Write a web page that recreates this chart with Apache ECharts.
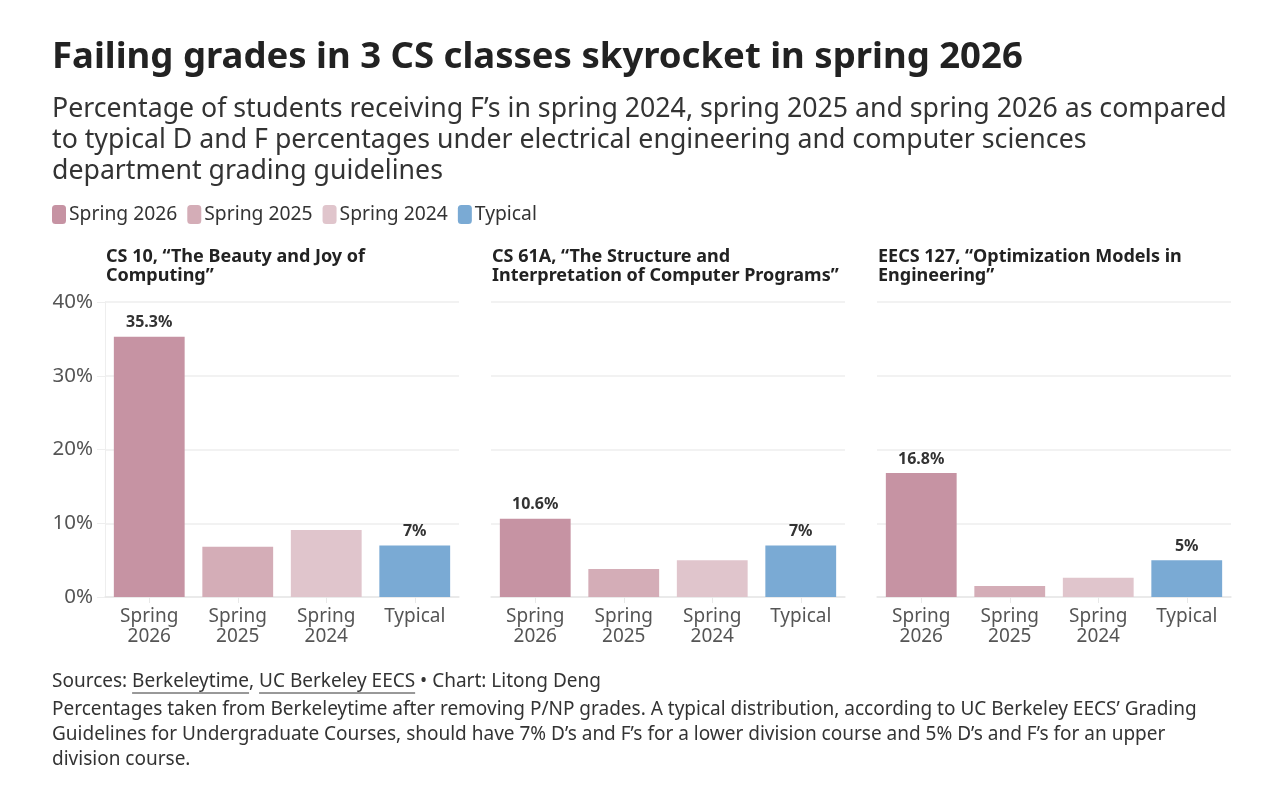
<!DOCTYPE html>
<html>
<head>
<meta charset="utf-8">
<script src="https://cdn.jsdelivr.net/npm/echarts@6/dist/echarts.min.js"></script>
<style>
  html, body { margin: 0; padding: 0; background: #fff; }
  #chart { width: 1280px; height: 802px; }
</style>
</head>
<body>
<div id="chart"></div>
<script>
// chart data
var categories = ['Spring\n2026', 'Spring\n2025', 'Spring\n2024', 'Typical'];
var seriesNames = ['Spring 2026', 'Spring 2025', 'Spring 2024', 'Typical'];
var panelTitles = [
  'CS 10, \u201cThe Beauty and Joy of\nComputing\u201d',
  'CS 61A, \u201cThe Structure and\nInterpretation of Computer Programs\u201d',
  'EECS 127, \u201cOptimization Models in\nEngineering\u201d'
];
var spring2026 = [35.3, 10.6, 16.8];
var spring2025 = [6.8, 3.8, 1.5];
var spring2024 = [9.1, 5.0, 2.6];
var typical = [7, 7, 5];
var yTicks = [0, 10, 20, 30, 40];

var FONT = '"Noto Sans", sans-serif';
var colors = ['#c693a3', '#d4adb7', '#e0c5cc', '#7aaad4'];
var panelLeft = [105, 491, 877];
var panelWidth = 354;

var chart = echarts.init(document.getElementById('chart'));

var values = [spring2026, spring2025, spring2024, typical];
var showLabel = [true, false, false, true];

var grids = [], xAxes = [], yAxes = [], series = [], graphics = [];
panelTitles.forEach(function (t, p) {
  grids.push({ left: panelLeft[p], top: 302, width: panelWidth, height: 295 });
  xAxes.push({
    type: 'category', gridIndex: p, data: categories,
    axisLine: { lineStyle: { color: '#e8e8e8', width: 1.5 } },
    axisTick: { show: true, alignWithLabel: true, length: 6, lineStyle: { color: '#e8e8e8' } },
    axisLabel: { color: '#555', fontFamily: FONT, fontSize: 19, lineHeight: 20, margin: 10 }
  });
  yAxes.push({
    type: 'value', gridIndex: p, min: yTicks[0], max: yTicks[yTicks.length - 1], interval: 10,
    axisLine: { show: p === 0, lineStyle: { color: '#eeeeee' } },
    axisTick: { show: p === 0, length: 8, lineStyle: { color: '#eeeeee' } },
    splitLine: { lineStyle: { color: '#eeeeee', width: 1.5 } },
    axisLabel: { show: p === 0, color: '#555', fontFamily: FONT, fontSize: 20.5, margin: 12,
      formatter: function (v) { return v + '%'; } }
  });
  values.forEach(function (arr, s) {
    var d = categories.map(function (c, ci) { return ci === s ? arr[p] : null; });
    series.push({
      name: seriesNames[s], type: 'bar', xAxisIndex: p, yAxisIndex: p,
      stack: 'panel' + p, data: d, barWidth: '80%',
      itemStyle: { color: colors[s] },
      label: {
        show: showLabel[s], position: 'top', distance: 6,
        color: '#333', fontFamily: FONT, fontSize: 16, fontWeight: 'bold',
        formatter: function (prm) { return prm.value + '%'; }
      }
    });
  });
  graphics.push({
    type: 'text', left: panelLeft[p] + 1, top: 247,
    style: { text: t, fill: '#222', font: 'bold 18px ' + FONT, lineHeight: 19 }
  });
});

// footer with underlined source names
var footFont = '19px ' + FONT;
var ctx = document.createElement('canvas').getContext('2d');
ctx.font = footFont;
var pre = 'Sources: ';
var s1 = 'Berkeleytime';
var s2 = 'UC Berkeley EECS';
var x0 = 52;
var u1x = x0 + ctx.measureText(pre).width;
var u1w = ctx.measureText(s1).width;
var u2x = x0 + ctx.measureText(pre + s1 + ', ').width;
var u2w = ctx.measureText(s2).width;

graphics.push(
  { type: 'text', left: 52, top: 672,
    style: { text: pre + s1 + ', ' + s2 + ' \u2022 Chart: Litong Deng', fill: '#333', font: footFont } },
  { type: 'line', shape: { x1: u1x, y1: 693, x2: u1x + u1w, y2: 693 }, style: { stroke: '#333', lineWidth: 1 } },
  { type: 'line', shape: { x1: u2x, y1: 693, x2: u2x + u2w, y2: 693 }, style: { stroke: '#333', lineWidth: 1 } },
  { type: 'text', left: 52, top: 697,
    style: {
      text: 'Percentages taken from Berkeleytime after removing P/NP grades. A typical distribution, according to UC Berkeley EECS\u2019 Grading\nGuidelines for Undergraduate Courses, should have 7% D\u2019s and F\u2019s for a lower division course and 5% D\u2019s and F\u2019s for an upper\ndivision course.',
      fill: '#333', font: footFont, lineHeight: 25
    } }
);

var option = {
  backgroundColor: '#ffffff',
  animation: false,
  title: [{
    text: 'Failing grades in 3 CS classes skyrocket in spring 2026',
    left: 47, top: 34,
    textStyle: { color: '#222', fontFamily: FONT, fontSize: 36.5, fontWeight: 'bold' }
  }, {
    text: 'Percentage of students receiving F\u2019s in spring 2024, spring 2025 and spring 2026 as compared\nto typical D and F percentages under electrical engineering and computer sciences\ndepartment grading guidelines',
    left: 47, top: 89,
    textStyle: { color: '#333', fontFamily: FONT, fontSize: 26.7, fontWeight: 'normal', lineHeight: 31 }
  }],
  legend: {
    left: 47, top: 200, itemWidth: 14, itemHeight: 19, itemGap: 10,
    icon: 'roundRect', data: seriesNames,
    textStyle: { color: '#333', fontFamily: FONT, fontSize: 19.3, padding: [0, 0, 0, -2] }
  },
  grid: grids,
  xAxis: xAxes,
  yAxis: yAxes,
  series: series,
  graphic: graphics
};
chart.setOption(option);
</script>
</body>
</html>
